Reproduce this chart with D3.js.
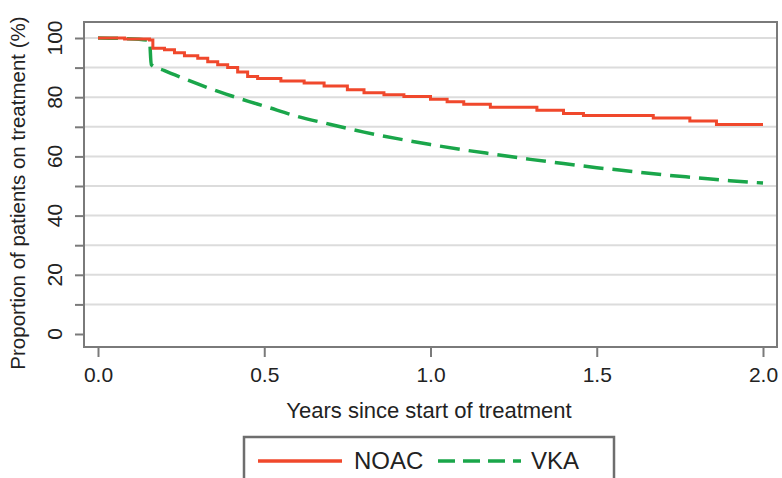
<!DOCTYPE html>
<html>
<head>
<meta charset="utf-8">
<script src="https://cdn.jsdelivr.net/npm/d3@7"></script>
<style>
  body { margin: 0; background: #fff; }
  text { font-family: "Liberation Sans", Arial, sans-serif; fill: #222; }
</style>
</head>
<body>
<svg id="chart"></svg>
<script>
// NOAC: step curve (years, % on treatment)
const noacYears = [0, 0.08, 0.155, 0.165, 0.2, 0.23, 0.26, 0.3, 0.33, 0.36, 0.39, 0.42, 0.45, 0.48, 0.55, 0.62, 0.68, 0.75, 0.8, 0.86, 0.92, 1.0, 1.05, 1.1, 1.18, 1.32, 1.4, 1.46, 1.67, 1.78, 1.86, 2.0];
const noacValues = [100, 99.7, 99.3, 96.5, 96, 95, 94, 93.2, 92, 91, 90, 88.5, 87, 86.3, 85.5, 84.8, 83.8, 82.5, 81.5, 80.8, 80.2, 79.3, 78.5, 77.6, 76.6, 75.6, 74.5, 73.8, 73, 72, 70.8, 70.8];

// VKA: dashed curve (dense steps look smooth)
const vkaYears = [0, 0.08, 0.155, 0.16, 0.2, 0.25, 0.3, 0.35, 0.4, 0.45, 0.5, 0.6, 0.7, 0.8, 0.9, 1.0, 1.1, 1.2, 1.3, 1.4, 1.5, 1.6, 1.7, 1.8, 1.9, 2.0];
const vkaValues = [100, 99.8, 99.2, 91, 89, 86.7, 84.5, 82.4, 80.5, 78.7, 77, 73.5, 70.8, 68.2, 66, 64, 62.2, 60.6, 59, 57.6, 56.2, 55, 53.8, 52.8, 51.8, 51];

const xTicks = [0, 0.5, 1.0, 1.5, 2.0];
const yLabelTicks = [0, 20, 40, 60, 80, 100];
const yAllTicks = d3.range(0, 101, 10);
const gridTicks = d3.range(10, 101, 10);

const width = 782, height = 478;
const red = "#f0482c", green = "#1aa64a";

const svg = d3.select("#chart").attr("width", width).attr("height", height);

const x = d3.scaleLinear().domain([0, 2]).range([98, 763]);
const y = d3.scaleLinear().domain([0, 100]).range([334, 38]);

const frame = { left: 84, right: 777, top: 22, bottom: 347 };

// gridlines
svg.append("g")
  .selectAll("line")
  .data(gridTicks)
  .join("line")
  .attr("x1", frame.left).attr("x2", frame.right)
  .attr("y1", d => y(d)).attr("y2", d => y(d))
  .attr("stroke", "#dcdcdc").attr("stroke-width", 2);

// frame
svg.append("rect")
  .attr("x", frame.left).attr("y", frame.top)
  .attr("width", frame.right - frame.left).attr("height", frame.bottom - frame.top)
  .attr("fill", "none").attr("stroke", "#7a7a7a").attr("stroke-width", 2);

// y axis
const yAxis = svg.append("g").attr("transform", `translate(${frame.left},0)`)
  .call(d3.axisLeft(y).tickValues(yAllTicks).tickSize(9).tickFormat(""));
yAxis.select(".domain").remove();
yAxis.selectAll("line").attr("stroke", "#7a7a7a").attr("stroke-width", 2);

svg.append("g")
  .selectAll("text")
  .data(yLabelTicks)
  .join("text")
  .attr("transform", d => `translate(62,${y(d)}) rotate(-90)`)
  .attr("text-anchor", "middle")
  .attr("font-size", 21)
  .text(d => d);

// x axis
const xAxis = svg.append("g").attr("transform", `translate(0,${frame.bottom})`)
  .call(d3.axisBottom(x).tickValues(xTicks).tickSize(10).tickPadding(10).tickFormat(d3.format(".1f")));
xAxis.select(".domain").remove();
xAxis.selectAll("line").attr("stroke", "#7a7a7a").attr("stroke-width", 2);
xAxis.selectAll("text").attr("font-size", 21).attr("fill", "#222")
  .attr("font-family", "Liberation Sans, Arial, sans-serif");

// axis titles
svg.append("text")
  .attr("x", 429).attr("y", 418)
  .attr("text-anchor", "middle").attr("font-size", 22)
  .text("Years since start of treatment");

svg.append("text")
  .attr("transform", "translate(25,193) rotate(-90)")
  .attr("text-anchor", "middle").attr("font-size", 20.5)
  .text("Proportion of patients on treatment (%)");

// curves
const noac = noacYears.map((t, i) => [t, noacValues[i]]);
const vka = vkaYears.map((t, i) => [t, vkaValues[i]]);

svg.append("path")
  .datum(vka)
  .attr("fill", "none").attr("stroke", green).attr("stroke-width", 3.5)
  .attr("stroke-dasharray", "20 9")
  .attr("d", d3.line().x(d => x(d[0])).y(d => y(d[1])).curve(d3.curveMonotoneX));

svg.append("path")
  .datum(noac)
  .attr("fill", "none").attr("stroke", red).attr("stroke-width", 3)
  .attr("d", d3.line().x(d => x(d[0])).y(d => y(d[1])).curve(d3.curveStepAfter));

// legend
const legend = svg.append("g");
legend.append("rect")
  .attr("x", 244).attr("y", 437).attr("width", 370).attr("height", 60)
  .attr("fill", "#fff").attr("stroke", "#6e6e6e").attr("stroke-width", 2.5);
legend.append("line")
  .attr("x1", 258).attr("x2", 342).attr("y1", 461).attr("y2", 461)
  .attr("stroke", red).attr("stroke-width", 3.5);
legend.append("text").attr("x", 354).attr("y", 469).attr("font-size", 24).text("NOAC");
legend.append("line")
  .attr("x1", 438).attr("x2", 521).attr("y1", 461).attr("y2", 461)
  .attr("stroke", green).attr("stroke-width", 3.5).attr("stroke-dasharray", "17 8");
legend.append("text").attr("x", 531).attr("y", 469).attr("font-size", 24).text("VKA");
</script>
</body>
</html>
